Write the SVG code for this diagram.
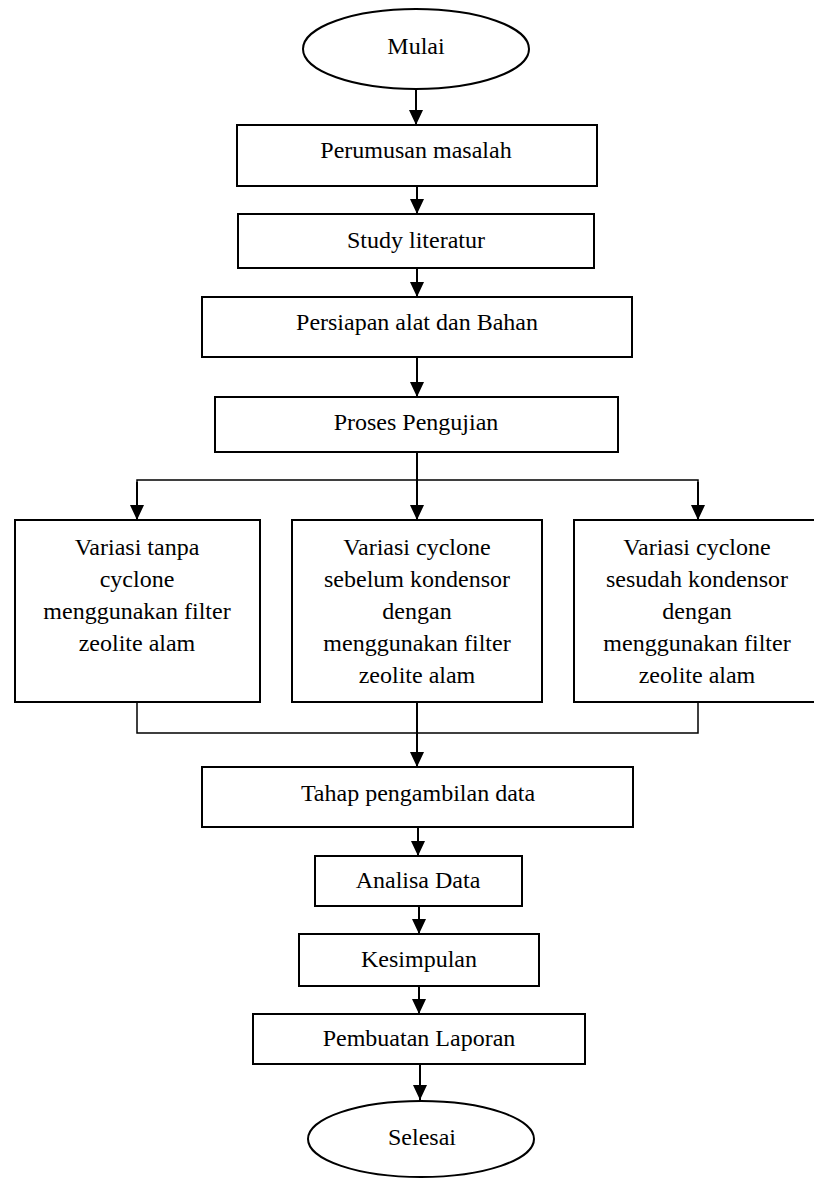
<svg xmlns="http://www.w3.org/2000/svg" width="814" height="1178" viewBox="0 0 814 1178">
<style>
.box{fill:#fff;stroke:#000;stroke-width:2}
.t{font-family:"Liberation Serif","Times New Roman",serif;font-size:24px;fill:#000;text-anchor:middle}
.c{fill:none;stroke:#000;stroke-width:2}
.thin{fill:none;stroke:#000;stroke-width:1.5}
</style>
<defs>
<marker id="ah" markerUnits="userSpaceOnUse" markerWidth="16" markerHeight="16" viewBox="0 0 16 16" refX="15" refY="8" orient="auto">
<path d="M0,1 L15,8 L0,15 Z" fill="#000"/>
</marker>
</defs>
<rect width="814" height="1178" fill="#fff"/>
<g id="connectors">
<line class="c" x1="416" y1="89" x2="416" y2="125" marker-end="url(#ah)"/>
<line class="c" x1="417" y1="186" x2="417" y2="214" marker-end="url(#ah)"/>
<line class="c" x1="417" y1="268" x2="417" y2="297" marker-end="url(#ah)"/>
<line class="c" x1="417" y1="357" x2="417" y2="397" marker-end="url(#ah)"/>
<line class="c" x1="417" y1="452" x2="417" y2="520" marker-end="url(#ah)"/>
<polyline class="thin" points="137,520 137,480 698,480 698,520"/>
<line class="c" x1="137" y1="482" x2="137" y2="520" marker-end="url(#ah)"/>
<line class="c" x1="698" y1="482" x2="698" y2="520" marker-end="url(#ah)"/>
<polyline class="thin" points="137,702 137,733 698,733 698,702"/>
<line class="c" x1="417" y1="702" x2="417" y2="767" marker-end="url(#ah)"/>
<line class="c" x1="418" y1="827" x2="418" y2="856" marker-end="url(#ah)"/>
<line class="c" x1="419" y1="906" x2="419" y2="934" marker-end="url(#ah)"/>
<line class="c" x1="419" y1="986" x2="419" y2="1014" marker-end="url(#ah)"/>
<line class="c" x1="420" y1="1064" x2="420" y2="1100" marker-end="url(#ah)"/>
</g>
<g id="mulai"><ellipse class="box" cx="416" cy="49" rx="113" ry="40"/><text class="t" x="416" y="54">Mulai</text></g>
<g id="perumusan"><rect class="box" x="237" y="125" width="360" height="61"/><text class="t" x="416" y="158">Perumusan masalah</text></g>
<g id="study"><rect class="box" x="238" y="214" width="356" height="54"/><text class="t" x="416" y="248">Study literatur</text></g>
<g id="persiapan"><rect class="box" x="202" y="297" width="430" height="60"/><text class="t" x="417" y="330">Persiapan alat dan Bahan</text></g>
<g id="proses"><rect class="box" x="215" y="397" width="403" height="55"/><text class="t" x="416" y="430">Proses Pengujian</text></g>
<g id="var1"><rect class="box" x="15" y="520" width="245" height="182"/>
<text class="t" x="137" y="555">Variasi tanpa</text>
<text class="t" x="137" y="587">cyclone</text>
<text class="t" x="137" y="619">menggunakan filter</text>
<text class="t" x="137" y="651">zeolite alam</text></g>
<g id="var2"><rect class="box" x="292" y="520" width="250" height="182"/>
<text class="t" x="417" y="555">Variasi cyclone</text>
<text class="t" x="417" y="587">sebelum kondensor</text>
<text class="t" x="417" y="619">dengan</text>
<text class="t" x="417" y="651">menggunakan filter</text>
<text class="t" x="417" y="683">zeolite alam</text></g>
<g id="var3"><rect class="box" x="574" y="520" width="248" height="182"/>
<text class="t" x="697" y="555">Variasi cyclone</text>
<text class="t" x="697" y="587">sesudah kondensor</text>
<text class="t" x="697" y="619">dengan</text>
<text class="t" x="697" y="651">menggunakan filter</text>
<text class="t" x="697" y="683">zeolite alam</text></g>
<g id="tahap"><rect class="box" x="202" y="767" width="431" height="60"/><text class="t" x="418" y="801">Tahap pengambilan data</text></g>
<g id="analisa"><rect class="box" x="315" y="856" width="207" height="50"/><text class="t" x="418" y="888">Analisa Data</text></g>
<g id="kesimpulan"><rect class="box" x="299" y="934" width="240" height="52"/><text class="t" x="419" y="967">Kesimpulan</text></g>
<g id="pembuatan"><rect class="box" x="253" y="1014" width="332" height="50"/><text class="t" x="419" y="1046">Pembuatan Laporan</text></g>
<g id="selesai"><ellipse class="box" cx="421" cy="1139" rx="113" ry="38"/><text class="t" x="422" y="1145">Selesai</text></g>
</svg>
